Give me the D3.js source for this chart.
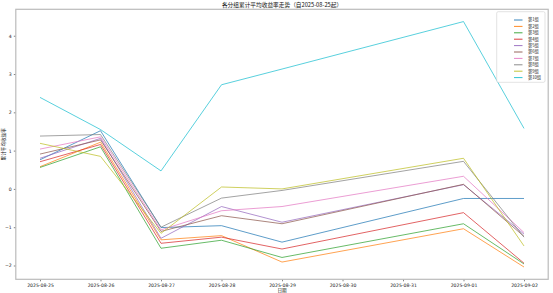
<!DOCTYPE html>
<html><head><meta charset="utf-8">
<script src="https://cdn.jsdelivr.net/npm/d3@7"></script>
<style>
html,body{margin:0;padding:0;background:#fff;}
svg{display:block;font-family:"Noto Sans CJK SC","DejaVu Sans",sans-serif;}
</style></head><body>
<svg id="c" width="553" height="293"></svg>
<script>
const dates = ["2025-08-25","2025-08-26","2025-08-27","2025-08-28","2025-08-29","2025-09-01","2025-09-02"];
const groups = ["第1组","第2组","第3组","第4组","第5组","第6组","第7组","第8组","第9组","第10组"];
const colors = ["#1f77b4","#ff7f0e","#2ca02c","#d62728","#9467bd","#8c564b","#e377c2","#7f7f7f","#bcbd22","#17becf"];
const g1  = [0.76, 1.52, -1.01, -0.96, -1.39, -0.25, -0.25];
const g2  = [0.58, 1.22, -1.33, -1.22, -1.91, -1.04, -2.04];
const g3  = [0.56, 1.10, -1.55, -1.34, -1.79, -0.91, -1.96];
const g4  = [0.71, 1.16, -1.42, -1.26, -1.57, -0.62, -1.94];
const g5  = [0.80, 1.32, -1.29, -0.46, -0.87, 0.11, -1.18];
const g6  = [0.91, 1.28, -1.11, -0.70, -0.91, 0.12, -1.24];
const g7  = [1.04, 1.36, -1.07, -0.57, -0.46, 0.33, -1.14];
const g8  = [1.38, 1.42, -1.00, -0.24, -0.04, 0.72, -1.26];
const g9  = [1.19, 0.85, -1.16, 0.05, 0.00, 0.80, -1.49];
const g10 = [2.39, 1.55, 0.47, 2.72, 3.13, 4.37, 1.58];
const series = [g1,g2,g3,g4,g5,g6,g7,g8,g9,g10];
const yTicks = [-2,-1,0,1,2,3,4];
const title = "各分组累计平均收益率走势（自2025-08-25起）";
const xLabel = "日期";
const yLabel = "累计平均收益率";

const svg = d3.select("#c");
const L = 15.8, R = 548.2, T = 9.3, B = 279.3;
const parse = d3.utcParse("%Y-%m-%d");
const dd = dates.map(parse);
const x0 = dd[0], x1 = dd[dd.length-1];
const span = x1 - x0, pad = span*0.05;
const x = d3.scaleUtc().domain([new Date(+x0 - pad), new Date(+x1 + pad)]).range([L, R]);
const all = series.flat();
const ymin = d3.min(all), ymax = d3.max(all), yp = (ymax-ymin)*0.05;
const y = d3.scaleLinear().domain([ymin-yp, ymax+yp]).range([B, T]);

const fs = 4.6;
const xa = svg.append("g").attr("transform",`translate(0,${B})`)
  .call(d3.axisBottom(x).ticks(d3.utcDay.every(1)).tickFormat(d3.utcFormat("%Y-%m-%d")).tickSize(2).tickPadding(2));
const ya = svg.append("g").attr("transform",`translate(${L},0)`)
  .call(d3.axisLeft(y).tickValues(yTicks).tickFormat(d3.format("d")).tickSize(2).tickPadding(2));
[xa,ya].forEach(a=>{
  a.select(".domain").remove();
  a.selectAll(".tick line").attr("stroke","#333").attr("stroke-width",0.6);
  a.selectAll(".tick text").attr("font-size",fs).attr("fill","#222").attr("font-family","DejaVu Sans");
});
ya.selectAll(".tick text").text(d=>d<0?"\u2212"+Math.abs(d):d);

const line = d3.line().x((d,i)=>x(dd[i])).y(d=>y(d));
series.forEach((s,k)=>{
  svg.append("path").datum(s).attr("d",line).attr("fill","none")
    .attr("stroke",colors[k]).attr("stroke-width",0.8).attr("stroke-opacity",0.9);
});

svg.append("rect").attr("x",L).attr("y",T).attr("width",R-L).attr("height",B-T)
  .attr("fill","none").attr("stroke","#bbbbbb").attr("stroke-width",1.2);

svg.append("text").attr("x",(L+R)/2).attr("y",7).attr("text-anchor","middle")
  .attr("font-size",5.7).attr("fill","#111").text(title);
svg.append("text").attr("x",(L+R)/2).attr("y",292).attr("text-anchor","middle")
  .attr("font-size",fs).attr("fill","#111").text(xLabel);
svg.append("text").attr("transform",`translate(5,${(T+B)/2}) rotate(-90)`).attr("text-anchor","middle")
  .attr("font-size",fs).attr("fill","#111").text(yLabel);

const lg = svg.append("g");
const lx = 496.7, ly = 11.7, lw = 48.3, lh = 70.6, rowH = 6.4;
lg.append("rect").attr("x",lx).attr("y",ly).attr("width",lw).attr("height",lh)
  .attr("rx",1.5).attr("fill","#fff").attr("fill-opacity",0.8).attr("stroke","#d0d0d0").attr("stroke-width",0.6);
groups.forEach((gname,k)=>{
  const yy = 20 + k*rowH;
  lg.append("line").attr("x1",514).attr("x2",522.5).attr("y1",yy).attr("y2",yy)
    .attr("stroke",colors[k]).attr("stroke-width",0.9);
  lg.append("text").attr("x",528).attr("y",yy+1.4).attr("font-size",4.2).attr("fill","#222").text(gname);
});
</script>
</body></html>
